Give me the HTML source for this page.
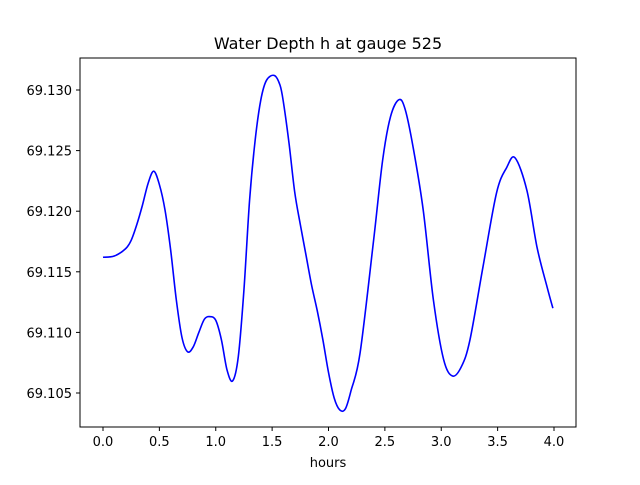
<!DOCTYPE html>
<html><head><meta charset="utf-8"><style>
body{margin:0;background:#fff;font-family:"Liberation Sans","DejaVu Sans",sans-serif}
</style></head><body>
<svg id="chart" width="640" height="480" xmlns="http://www.w3.org/2000/svg">
<rect width="640" height="480" fill="#fff"/>
<text x="328" y="49" text-anchor="middle" font-size="16" font-family="DejaVu Sans, sans-serif">Water Depth h at gauge 525</text>
<g id="axes"></g>
<rect x="80" y="58" width="496" height="369" fill="none" stroke="#000" stroke-width="1"/>
<text x="328" y="467" text-anchor="middle" font-size="13" font-family="DejaVu Sans, sans-serif">hours</text>
</svg>
<script>
const hours=[0,0.1,0.2,0.25,0.3,0.35,0.4,0.45,0.5,0.55,0.6,0.65,0.7,0.75,0.8,0.85,0.9,0.95,1.0,1.05,1.1,1.15,1.2,1.25,1.3,1.35,1.4,1.45,1.52,1.57,1.6,1.65,1.7,1.75,1.8,1.85,1.9,1.95,2.0,2.05,2.1,2.15,2.2,2.28,2.4,2.48,2.55,2.625,2.68,2.75,2.84,2.93,3.02,3.10,3.18,3.255,3.37,3.49,3.58,3.655,3.76,3.85,3.94,3.99];
const depth=[69.1162,69.1163,69.1169,69.1176,69.1189,69.1205,69.1223,69.1233,69.1222,69.1201,69.1168,69.1127,69.1096,69.1084,69.1088,69.1100,69.1111,69.1113,69.1110,69.1094,69.1069,69.1060,69.1080,69.1135,69.1209,69.1259,69.1292,69.1308,69.1312,69.1304,69.1290,69.1256,69.1216,69.1189,69.1164,69.1139,69.1118,69.1094,69.1067,69.1046,69.1036,69.1037,69.1052,69.1083,69.1176,69.1242,69.1278,69.1292,69.1284,69.1253,69.1201,69.1127,69.1078,69.1064,69.1072,69.1094,69.1154,69.1215,69.1236,69.1244,69.1217,69.1170,69.1137,69.1120];
const xTicks=[0.0,0.5,1.0,1.5,2.0,2.5,3.0,3.5,4.0];
const yTicks=[69.105,69.110,69.115,69.120,69.125,69.130];
const X=v=>103+v*112.75;
const Y=v=>90+(69.130-v)*12120;
const NS="http://www.w3.org/2000/svg";
const g=document.getElementById('axes');
function mk(t,a){const e=document.createElementNS(NS,t);for(const k in a)e.setAttribute(k,a[k]);return e;}
xTicks.forEach(t=>{
  const l=mk('line',{x1:X(t),x2:X(t),y1:427,y2:431,stroke:'#000'});
  
  
  g.appendChild(l);
  const s=mk('text',{x:X(t),y:446,'text-anchor':'middle','font-size':13,'font-family':'DejaVu Sans, sans-serif'});
  
  
  s.textContent=t.toFixed(1);g.appendChild(s);
});
yTicks.forEach(t=>{
  const l=mk('line',{x1:76,x2:80,y1:Y(t),y2:Y(t),stroke:'#000'});
  
  
  g.appendChild(l);
  const s=mk('text',{x:72,y:Y(t)+5,'text-anchor':'end','font-size':13,'font-family':'DejaVu Sans, sans-serif'});
  
  
  s.textContent=t.toFixed(3);g.appendChild(s);
});
const pts=hours.map((h,i)=>[X(h),Y(depth[i])]);
let d='M'+pts[0][0]+','+pts[0][1];
for(let i=0;i<pts.length-1;i++){
  const p0=pts[Math.max(0,i-1)],p1=pts[i],p2=pts[i+1],p3=pts[Math.min(pts.length-1,i+2)];
  const c1=[p1[0]+(p2[0]-p0[0])/6,p1[1]+(p2[1]-p0[1])/6];
  const c2=[p2[0]-(p3[0]-p1[0])/6,p2[1]-(p3[1]-p1[1])/6];
  d+=' C'+c1+' '+c2+' '+p2;
}
const path=mk('path',{d:d,fill:'none',stroke:'#0000ff','stroke-width':1.6});


g.appendChild(path);
</script>
</body></html>
